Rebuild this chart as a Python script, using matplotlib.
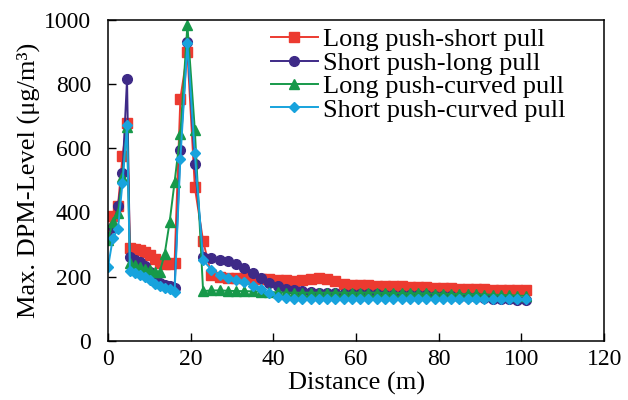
import matplotlib
matplotlib.use("Agg")
import matplotlib.pyplot as plt

# distance stations (m)
distance = [0, 1.2, 2.4, 3.5, 4.6, 5.3, 6.5, 7.7, 8.9, 10.1, 11.3, 12.5, 13.7, 14.9, 16.1, 17.5, 19.2,
            21, 23, 25, 27, 29, 31, 33, 35, 37, 39, 41, 43, 45, 47, 49, 51, 53, 55, 57, 59,
            61, 63, 65, 67, 69, 71, 73, 75, 77, 79, 81, 83, 85, 87, 89, 91, 93, 95, 97, 99, 101]

# Max. DPM level (ug/m3) for each layout
long_short = [345, 390, 420, 575, 680, 290, 287, 284, 278, 268, 255, 243, 240, 240, 243, 755, 900,
              478, 311, 205, 200, 197, 196, 195, 194, 193, 192, 190, 188, 187, 190, 193, 195, 193, 185, 178, 175,
              174, 173, 172, 171, 170, 170, 169, 168, 167, 166, 165, 164, 163, 162, 161, 160, 159, 158, 158, 157, 157]
short_long = [325, 355, 420, 522, 816, 260, 253, 246, 232, 215, 198, 180, 175, 170, 165, 596, 930,
              551, 262, 258, 253, 249, 240, 228, 212, 195, 180, 170, 163, 158, 155, 152, 150, 149, 148, 147, 146,
              146, 145, 145, 144, 144, 143, 143, 142, 142, 141, 140, 139, 138, 137, 135, 133, 131, 130, 129, 128, 127]
long_curved = [315, 370, 397, 510, 665, 241, 236, 230, 225, 220, 216, 215, 270, 370, 495, 645, 984,
               657, 155, 157, 157, 156, 155, 155, 154, 153, 152, 151, 150, 150, 150, 150, 150, 150, 150, 150, 150,
               150, 150, 150, 149, 149, 149, 148, 148, 148, 147, 147, 146, 146, 145, 145, 144, 144, 143, 142, 141, 140]
short_curved = [230, 322, 347, 492, 672, 218, 212, 205, 198, 188, 178, 172, 165, 160, 152, 568, 927,
                584, 251, 222, 205, 196, 190, 183, 172, 160, 148, 138, 133, 131, 130, 130, 130, 130, 130, 130, 130,
                130, 130, 130, 130, 130, 130, 130, 130, 130, 130, 130, 130, 130, 130, 130, 130, 129, 129, 129, 129, 129]

labels = ["Long push-short pull", "Short push-long pull",
          "Long push-curved pull", "Short push-curved pull"]

plt.rcParams['font.family'] = ['Liberation Serif', 'DejaVu Serif']

fig = plt.figure(figsize=(6.28, 4), dpi=100)
ax = fig.add_axes([0.172, 0.148, 0.79, 0.802])

ax.plot(distance, long_short, color="#ec3a30", marker="s", markersize=7.5, lw=1.4, label=labels[0])
ax.plot(distance, short_long, color="#3e2a87", marker="o", markersize=7, lw=1.4, label=labels[1])
ax.plot(distance, long_curved, color="#17994a", marker="^", markersize=7, lw=1.4, label=labels[2])
ax.plot(distance, short_curved, color="#17a3dd", marker="D", markersize=5.5, lw=1.4, label=labels[3])

ax.set_xlim(0, 120)
ax.set_ylim(0, 1000)
ax.set_xticks([0, 20, 40, 60, 80, 100, 120])
ax.set_yticks([0, 200, 400, 600, 800, 1000])
ax.tick_params(direction="in", length=6, width=1, labelsize=17)
ax.tick_params(axis="x", pad=6)
ax.tick_params(axis="y", pad=12)
for s in ax.spines.values():
    s.set_linewidth(1.1)

ax.set_xlabel("Distance (m)", fontsize=19, labelpad=1)
ax.set_ylabel("Max. DPM-Level (\u03bcg/m\u00b3)", fontsize=19, labelpad=3)

ax.legend(loc="upper right", bbox_to_anchor=(0.955, 1.025), frameon=False, fontsize=19,
          handlelength=1.8, handletextpad=0.2, labelspacing=0.0, borderaxespad=0.2)

plt.savefig("out.png", dpi=100)
